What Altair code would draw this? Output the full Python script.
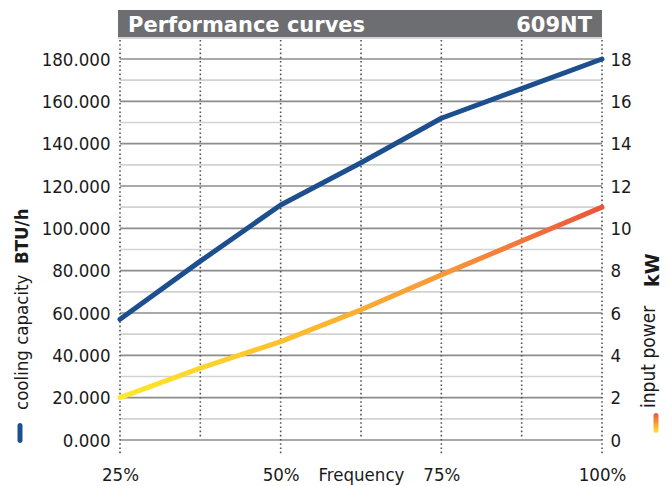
import altair as alt
import pandas as pd

# ---- data ----
freq = [25, 37.5, 50, 62.5, 75, 87.5, 100]
capacity = [57000, 84500, 111000, 131000, 152000, 166000, 180000]   # BTU/h
power = [2.0, 3.4, 4.65, 6.15, 7.8, 9.4, 11.0]                       # kW

x_ticks = [25, 50, 75, 100]
x_minor = [37.5, 62.5, 87.5]
cap_ticks = [0, 20000, 40000, 60000, 80000, 100000, 120000, 140000, 160000, 180000]
cap_minor = [10000, 30000, 50000, 70000, 90000, 110000, 130000, 150000, 170000]
pow_ticks = [0, 2, 4, 6, 8, 10, 12, 14, 16, 18]

title_left = ["Performance curves"]
title_right = ["609NT"]
x_title = "Frequency"
left_title = ["cooling capacity"]
left_unit = ["BTU/h"]
right_title = ["input power"]
right_unit = ["kW"]

# ---- style ----
W, H = 482, 381
NARROW = "DejaVu Sans Condensed, Liberation Sans Narrow, sans-serif"
HEAD = "DejaVu Sans, sans-serif"
BLUE = "#1d4f8f"
GREY_BAR = "#6d6e71"
INK = "#1a1a1a"

df = pd.DataFrame({"freq": freq, "cap": capacity, "power": power})
one = pd.DataFrame({"k": [0]})

x_enc = alt.X(
    "freq:Q",
    scale=alt.Scale(domain=[25, 100], nice=False, zero=False),
    axis=alt.Axis(
        values=x_ticks,
        labelExpr="datum.value + '%'",
        labelFlush=False,
        labelPadding=25,
        title=x_title,
        titleFont=NARROW,
        titleFontSize=18.5,
        titleFontWeight="normal",
        titleColor=INK,
        titleBaseline="top",
        titleY=25,
    ),
)
cap_scale = alt.Scale(domain=[0, 180000], nice=False, zero=True)
pow_scale = alt.Scale(domain=[0, 18], nice=False, zero=True)

# horizontal grid
grid_major = alt.Chart(pd.DataFrame({"cap": cap_ticks})).mark_rule(
    color="#8c8c8c", strokeWidth=1.6
).encode(
    x=alt.value(0), x2=alt.value(W),
    y=alt.Y("cap:Q", scale=cap_scale, axis=None),
)
grid_minor = alt.Chart(pd.DataFrame({"cap": cap_minor})).mark_rule(
    color="#d2d2d2", strokeWidth=1.6
).encode(
    x=alt.value(0), x2=alt.value(W),
    y=alt.Y("cap:Q", scale=cap_scale, axis=None),
)

# vertical dotted lines
vert_major = alt.Chart(pd.DataFrame({"freq": x_ticks})).mark_rule(
    color="#555555", strokeWidth=1.6, strokeDash=[1.6, 2.6]
).encode(x=x_enc, y=alt.value(-19), y2=alt.value(H + 14))
vert_minor = alt.Chart(pd.DataFrame({"freq": x_minor})).mark_rule(
    color="#555555", strokeWidth=1.6, strokeDash=[1.6, 2.6]
).encode(x=x_enc, y=alt.value(-19), y2=alt.value(H - 2))

# curves
cap_line = alt.Chart(df).mark_line(
    color=BLUE, strokeWidth=5, strokeCap="round", strokeJoin="round"
).encode(
    x=x_enc,
    y=alt.Y("cap:Q", scale=cap_scale,
            axis=alt.Axis(orient="left", values=cap_ticks, title=None,
                          labelExpr="format(datum.value/1000, '.3f')",
                          labelPadding=10)),
)

grad_h = alt.Gradient(
    gradient="linear",
    stops=[
        alt.GradientStop(color="#ffe82a", offset=0),
        alt.GradientStop(color="#fdc12b", offset=0.33),
        alt.GradientStop(color="#f7983a", offset=0.67),
        alt.GradientStop(color="#ec533a", offset=1),
    ],
    x1=0, x2=1, y1=0, y2=0,
)
pow_line = alt.Chart(df).mark_line(
    color=grad_h, strokeWidth=5, strokeCap="round", strokeJoin="round"
).encode(
    x=x_enc,
    y=alt.Y("power:Q", scale=pow_scale,
            axis=alt.Axis(orient="right", values=pow_ticks, title=None,
                          labelPadding=8)),
)

# header bar
bar = alt.Chart(one).mark_rect(color=GREY_BAR).encode(
    x=alt.value(-2), x2=alt.value(W), y=alt.value(-49), y2=alt.value(-22)
)
strip = alt.Chart(one).mark_rect(color="#d6d6d6").encode(
    x=alt.value(-2), x2=alt.value(W), y=alt.value(-22), y2=alt.value(-20)
)
t_left = alt.Chart(pd.DataFrame({"t": title_left})).mark_text(
    font=HEAD, fontSize=21, fontWeight="bold", color="white",
    align="left", baseline="alphabetic"
).encode(x=alt.value(8), y=alt.value(-27.5), text="t:N")
t_right = alt.Chart(pd.DataFrame({"t": title_right})).mark_text(
    font=HEAD, fontSize=21, fontWeight="bold", color="white",
    align="right", baseline="alphabetic"
).encode(x=alt.value(472), y=alt.value(-27.5), text="t:N")

# rotated axis titles
lt = alt.Chart(pd.DataFrame({"t": left_title})).mark_text(
    font=NARROW, fontSize=18.5, color=INK, angle=270,
    align="left", baseline="alphabetic"
).encode(x=alt.value(-92), y=alt.value(351), text="t:N")
lu = alt.Chart(pd.DataFrame({"t": left_unit})).mark_text(
    font=NARROW, fontSize=18.5, fontWeight="bold", color=INK, angle=270,
    align="left", baseline="alphabetic"
).encode(x=alt.value(-92), y=alt.value(205), text="t:N")
rt = alt.Chart(pd.DataFrame({"t": right_title})).mark_text(
    font=NARROW, fontSize=19, color=INK, angle=270,
    align="left", baseline="alphabetic"
).encode(x=alt.value(535), y=alt.value(349), text="t:N")
ru = alt.Chart(pd.DataFrame({"t": right_unit})).mark_text(
    font=HEAD, fontSize=19, fontWeight="bold", color=INK, angle=270,
    align="left", baseline="alphabetic"
).encode(x=alt.value(539), y=alt.value(228), text="t:N")

# legend markers
grad_v = alt.Gradient(
    gradient="linear",
    stops=[
        alt.GradientStop(color="#ffe82a", offset=0),
        alt.GradientStop(color="#f7983a", offset=0.5),
        alt.GradientStop(color="#ec533a", offset=1),
    ],
    x1=0, x2=0, y1=1, y2=0,
)
lm = alt.Chart(one).mark_rect(color=BLUE, cornerRadius=2.5).encode(
    x=alt.value(-102.5), x2=alt.value(-97.5), y=alt.value(364), y2=alt.value(384)
)
rm = alt.Chart(one).mark_rect(color=grad_v, cornerRadius=2.5).encode(
    x=alt.value(533.5), x2=alt.value(538.5), y=alt.value(354), y2=alt.value(374)
)

chart = alt.layer(
    grid_minor, grid_major, vert_minor, vert_major,
    bar, strip, t_left, t_right,
    cap_line, pow_line,
    lt, lu, rt, ru, lm, rm,
).resolve_scale(y="independent").properties(
    width=W, height=H,
    autosize=alt.AutoSizeParams(type="none"),
    padding={"left": 112, "top": 51, "right": 60, "bottom": 46},
).configure_view(stroke=None).configure_axis(
    domain=False, ticks=False, grid=False,
    labelFont=NARROW, labelFontSize=18.5, labelColor=INK,
)

chart.save("out.html", embed_options={"renderer": "svg", "actions": False})
